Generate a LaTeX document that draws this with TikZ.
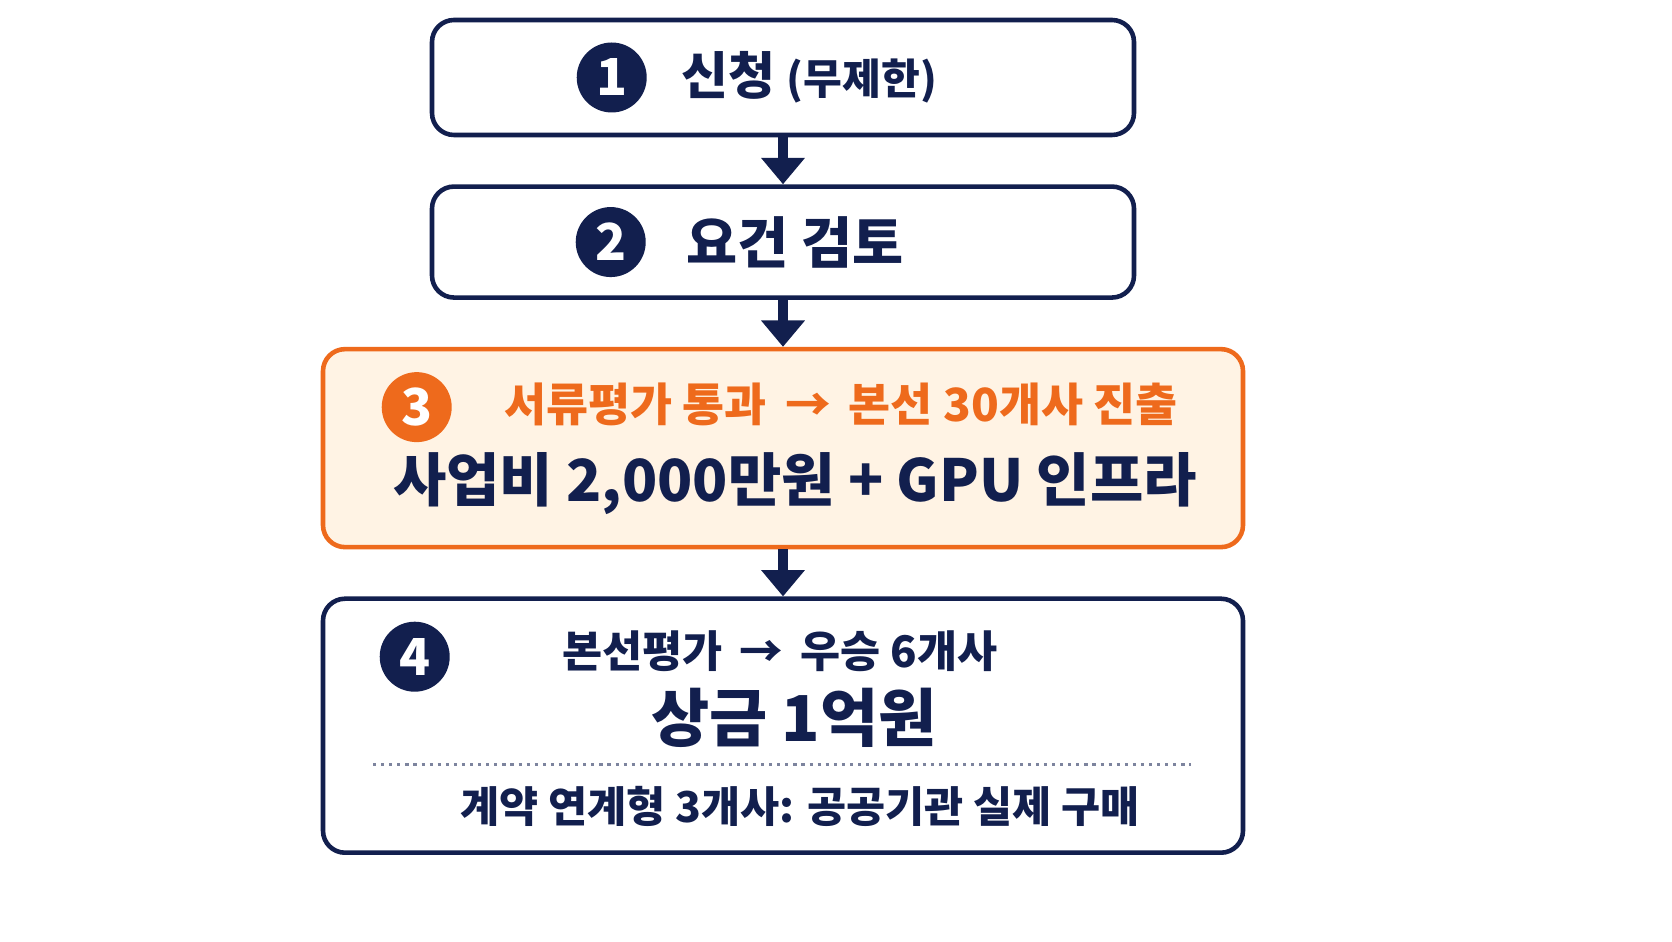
\documentclass[tikz,border=0pt]{standalone}
\usepackage{fontspec}
\setmainfont{Noto Sans CJK KR}
\usetikzlibrary{positioning}
\usetikzlibrary{arrows.meta}
\definecolor{navy}{HTML}{121F4E}
\definecolor{hot}{HTML}{EE6A1C}
\definecolor{hotfill}{HTML}{FFF3E4}
\def\mygap{0.47cm}
\tikzset{
font=\bfseries, % All text bold
stage/.style={draw=navy,line width=1.3pt,rounded corners=2.2mm,fill=white,
  minimum width=7.02cm,inner sep=0mm},
hot stage/.style={stage,draw=hot,fill=hotfill,minimum width=9.2cm},
badge/.style={circle,fill=navy,text=white,minimum size=0.7cm,inner sep=0mm,
  font=\bfseries\fontsize{14.5}{14}\selectfont},
hot badge/.style={badge,fill=hot},
label/.style={text=navy,inner sep=0mm},
flow/.style={draw=navy,line width=2.8pt,-{Triangle[width=12pt,length=7.5pt]}},
sep line/.style={navy!55,line width=0.9pt,dash pattern=on 0.9pt off 1.4pt}
}
\begin{document}
\begin{tikzpicture}
\useasboundingbox[fill=white] (0,0) rectangle (16.72,9.41);

\node[stage,minimum height=1.15cm] (b1) at (7.83,8.635) {};
\node[stage,minimum height=1.11cm] (b2) [below=\mygap of b1] {};
\node[hot stage,minimum height=1.98cm] (b3) [below=\mygap of b2] {};
\node[stage,minimum width=9.2cm,minimum height=2.54cm] (b4) [below=\mygap of b3] {};

% step 1 and 2
\node[badge] (c1) at ([xshift=1.82cm]b1.west) {1};
\node[label,anchor=west,font=\bfseries\fontsize{14.5}{14}\selectfont] (t1)
  at ([xshift=2.51cm]b1.west) {신청 {\fontsize{12}{12}\selectfont(무제한)}};
\node[badge] (c2) at ([xshift=1.81cm]b2.west) {2};
\node[label,anchor=west,font=\bfseries\fontsize{15.8}{15}\selectfont] (t2)
  at ([xshift=2.56cm]b2.west) {요건 검토};

% step 3
\node[hot badge] (c3) at ([xshift=0.96cm,yshift=0.41cm]b3.west) {3};
\node[label,text=hot,font=\bfseries\fontsize{13}{13}\selectfont] (t3a)
  at ([xshift=0.58cm,yshift=0.44cm]b3.center) {서류평가 통과 \,→\, 본선 30개사 진출};
\node[label,font=\bfseries\fontsize{16.5}{16}\selectfont] (t3b)
  at ([xshift=0.12cm,yshift=-0.35cm]b3.center) {사업비 2,000만원 + GPU 인프라};

% step 4
\node[badge] (c4) at ([xshift=0.94cm,yshift=0.69cm]b4.west) {4};
\node[label,font=\bfseries\fontsize{12.4}{12}\selectfont] (t4a)
  at ([xshift=-0.03cm,yshift=0.75cm]b4.center) {본선평가 \,→\, 우승 6개사};
\node[label,font=\bfseries\fontsize{18}{18}\selectfont] (t4b)
  at ([xshift=0.11cm,yshift=0.08cm]b4.center) {상금 1억원};
\coordinate (d1) at ([xshift=-4.1cm,yshift=-0.39cm]b4.center);
\coordinate (d2) at ([xshift=4.08cm,yshift=-0.39cm]b4.center);
\draw[sep line] (d1) -- (d2);
\node[label,font=\bfseries\fontsize{12.1}{12}\selectfont] (t4c)
  at ([xshift=0.17cm,yshift=-0.81cm]b4.center) {계약 연계형 3개사: 공공기관 실제 구매};

\path (b1) edge[flow] (b2)
      (b2) edge[flow] (b3)
      (b3) edge[flow] (b4);
\end{tikzpicture}
\end{document}
